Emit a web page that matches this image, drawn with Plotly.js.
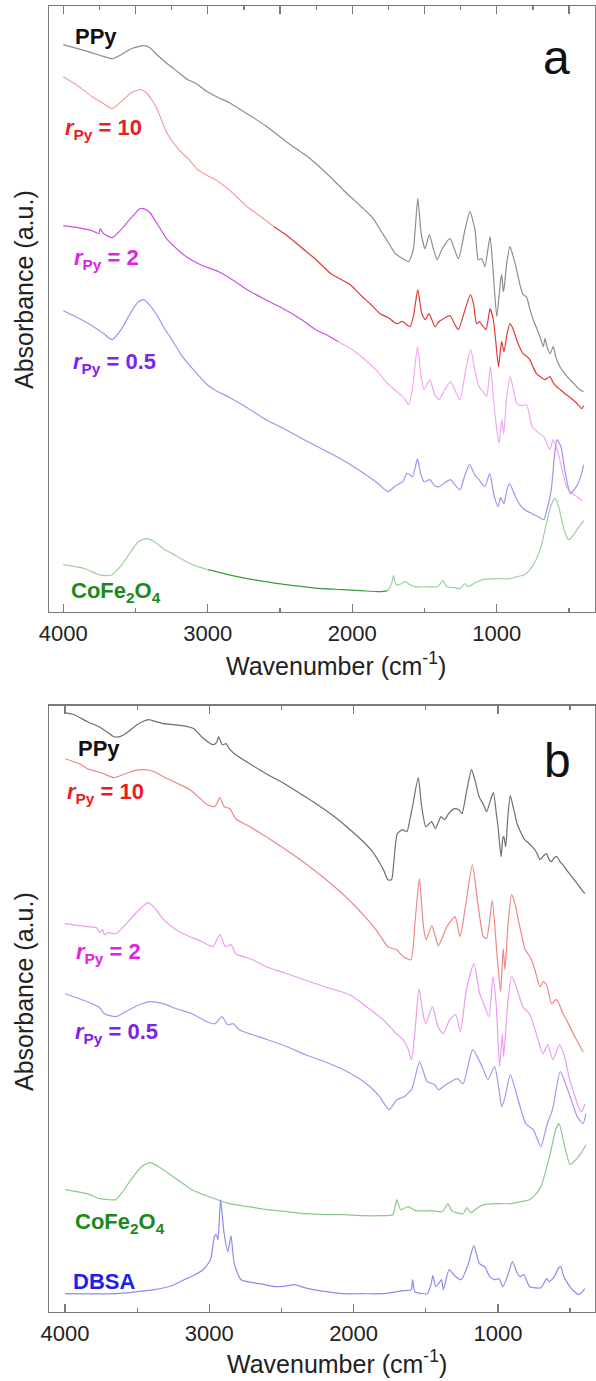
<!DOCTYPE html>
<html>
<head>
<meta charset="utf-8">
<script src="https://cdn.plot.ly/plotly-3.0.1.min.js"></script>
<style>html,body{margin:0;padding:0;background:#fff;}#chart{width:596px;height:1381px;}</style>
</head>
<body>
<div id="chart"></div>
<script>
// ---------- Panel a data (wavenumber cm-1, absorbance a.u.) ----------
const wnA_PPy = [4000,3850,3760,3662,3600,3530,3444,3400,3359,3280,3200,3149,3080,3004,2925,2850,2728,2600,2438,2300,2175,2050,1938,1860,1807,1750,1702,1650,1610,1578,1547,1524,1497,1467,1439,1412,1381,1324,1266,1220,1186,1151,1128,1104,1082,1047,1029,1000,975,966,955,950,930,909,890,863,840,818,795,770,748,720,701,678,667,650,632,609,590,563,530,494,460,425,400];
const absA_PPy = [5.67,5.61,5.57,5.53,5.57,5.63,5.66,5.64,5.58,5.48,5.39,5.33,5.28,5.20,5.14,5.09,4.98,4.86,4.68,4.54,4.38,4.20,4.05,3.94,3.82,3.69,3.58,3.53,3.50,3.62,4.13,3.79,3.63,3.77,3.63,3.52,3.62,3.73,3.53,3.82,4.00,3.82,3.52,3.53,3.45,3.75,3.48,2.95,3.30,3.37,3.20,3.23,3.50,3.65,3.57,3.42,3.27,3.17,3.15,3.02,2.92,2.82,2.75,2.65,2.73,2.64,2.58,2.65,2.54,2.45,2.38,2.32,2.27,2.22,2.20];

const wnA_r10 = [4000,3900,3800,3720,3662,3600,3530,3464,3420,3359,3280,3201,3130,3070,3000,2925,2830,2728,2642,2542,2450,2359,2250,2148,2014,1938,1877,1807,1750,1693,1660,1647,1625,1600,1575,1547,1519,1495,1470,1455,1428,1400,1381,1324,1290,1266,1220,1182,1160,1140,1120,1104,1075,1060,1047,1024,1005,988,975,966,950,930,909,885,863,840,818,790,771,750,725,690,667,632,610,586,560,528,490,450,412,400];
const absA_r10 = [5.35,5.26,5.15,5.08,5.03,5.10,5.19,5.22,5.18,5.05,4.78,4.62,4.52,4.42,4.36,4.30,4.19,4.05,3.96,3.85,3.76,3.65,3.52,3.38,3.27,3.16,3.08,2.98,2.94,2.88,2.90,2.90,2.87,2.85,2.97,3.22,2.98,2.92,2.98,2.94,2.85,2.90,2.92,2.96,2.87,2.82,3.02,3.17,3.07,2.88,2.90,2.87,2.82,2.92,3.03,2.92,2.67,2.45,2.62,2.70,2.60,2.77,2.88,2.82,2.72,2.64,2.58,2.55,2.52,2.45,2.38,2.34,2.32,2.35,2.29,2.25,2.22,2.18,2.14,2.09,2.03,2.06];

const wnA_r2 = [4000,3900,3800,3754,3745,3720,3662,3600,3530,3470,3444,3400,3359,3280,3200,3149,3050,2925,2830,2728,2600,2464,2350,2253,2180,2096,2000,1912,1830,1754,1700,1649,1610,1585,1549,1525,1504,1464,1430,1399,1360,1320,1285,1254,1215,1181,1150,1123,1090,1070,1044,1023,1000,985,965,952,930,907,885,861,830,795,775,755,720,675,650,634,608,590,569,540,517,490,464,435,406];
const absA_r2 = [3.86,3.84,3.81,3.78,3.83,3.78,3.74,3.82,3.94,4.03,4.03,3.99,3.90,3.72,3.61,3.55,3.47,3.40,3.32,3.22,3.12,3.02,2.92,2.82,2.77,2.70,2.62,2.52,2.41,2.28,2.21,2.15,2.07,2.22,2.65,2.37,2.22,2.32,2.17,2.12,2.22,2.30,2.20,2.12,2.42,2.62,2.40,2.25,2.19,2.15,2.45,2.12,1.82,1.68,1.92,1.78,2.17,2.35,2.22,2.08,2.06,2.07,1.97,1.85,1.80,1.75,1.67,1.62,1.72,1.65,1.55,1.37,1.25,1.20,1.17,1.14,1.11];

const wnA_r05 = [4000,3900,3800,3720,3662,3600,3530,3480,3444,3400,3350,3307,3240,3175,3100,3004,2930,2859,2728,2596,2460,2333,2200,2070,1980,1886,1820,1754,1700,1649,1625,1610,1583,1549,1525,1504,1464,1430,1399,1360,1320,1285,1254,1220,1188,1150,1123,1083,1049,1017,991,975,965,950,930,912,885,861,830,807,755,700,675,650,623,600,583,556,530,491,465,438,415,398];
const absA_r05 = [3.01,2.94,2.86,2.78,2.72,2.82,3.00,3.10,3.12,3.06,2.96,2.85,2.70,2.55,2.42,2.27,2.20,2.15,2.04,1.92,1.82,1.72,1.62,1.52,1.44,1.35,1.28,1.20,1.26,1.30,1.38,1.38,1.35,1.53,1.37,1.30,1.32,1.26,1.25,1.29,1.32,1.26,1.22,1.37,1.47,1.36,1.32,1.25,1.38,1.15,1.05,1.14,1.12,1.08,1.22,1.28,1.20,1.12,1.05,1.02,0.98,0.94,0.92,1.04,1.22,1.57,1.72,1.65,1.42,1.18,1.22,1.28,1.37,1.47];

const wnA_Co = [4000,3850,3754,3700,3662,3600,3543,3480,3425,3370,3307,3220,3122,3000,2859,2728,2596,2460,2333,2200,2070,1940,1807,1754,1728,1715,1697,1660,1635,1600,1570,1480,1412,1385,1373,1346,1290,1254,1222,1201,1150,1096,1000,912,860,807,770,728,690,662,628,600,591,570,556,530,504,485,464,430,398];
const absA_Co = [0.47,0.43,0.37,0.36,0.37,0.46,0.58,0.70,0.73,0.70,0.63,0.56,0.48,0.42,0.37,0.33,0.30,0.27,0.25,0.23,0.22,0.21,0.20,0.21,0.28,0.36,0.27,0.28,0.30,0.27,0.25,0.25,0.25,0.29,0.31,0.25,0.24,0.23,0.28,0.25,0.29,0.32,0.33,0.33,0.35,0.37,0.42,0.52,0.67,0.85,1.05,1.13,1.12,1.04,0.95,0.80,0.72,0.74,0.78,0.85,0.91];

// ---------- Panel b data ----------
const wnB_PPy = [4000,3937,3844,3765,3700,3660,3620,3581,3500,3423,3370,3317,3250,3186,3107,3054,2975,2950,2936,2909,2883,2857,2817,2720,2606,2490,2369,2250,2132,2040,1947,1880,1816,1790,1763,1737,1720,1697,1660,1631,1610,1592,1552,1530,1499,1460,1433,1394,1370,1341,1302,1270,1249,1215,1183,1160,1130,1100,1078,1050,1031,1010,999,978,965,959,946,930,914,890,867,840,814,790,762,735,709,690,664,645,630,610,590,570,551,510,472,435,398];
const absB_PPy = [5.99,5.97,5.90,5.85,5.79,5.75,5.75,5.78,5.87,5.92,5.90,5.88,5.87,5.86,5.83,5.75,5.67,5.69,5.75,5.67,5.68,5.62,5.57,5.48,5.38,5.29,5.18,5.07,4.95,4.84,4.72,4.62,4.48,4.41,4.32,4.32,4.52,4.78,4.82,4.80,4.92,5.05,5.34,5.07,4.85,4.90,4.83,4.95,4.92,4.98,5.03,5.02,4.98,5.22,5.42,5.32,5.15,5.07,5.00,5.12,5.19,4.97,4.85,4.55,4.74,4.75,4.65,4.97,5.16,5.02,4.88,4.79,4.72,4.69,4.65,4.60,4.52,4.55,4.58,4.52,4.50,4.54,4.55,4.50,4.47,4.39,4.32,4.25,4.18];

const wnB_r10 = [4000,3900,3844,3750,3660,3600,3520,3450,3380,3317,3230,3133,3070,3014,2962,2927,2896,2857,2817,2720,2606,2490,2369,2250,2132,2026,1921,1840,1763,1725,1701,1655,1603,1573,1544,1516,1497,1458,1412,1354,1297,1262,1228,1177,1136,1101,1078,1039,1009,981,963,951,930,905,880,859,836,813,767,740,709,685,663,628,600,583,555,525,470,410];
const absB_r10 = [5.53,5.48,5.43,5.39,5.34,5.37,5.41,5.42,5.40,5.35,5.29,5.22,5.14,5.07,5.05,5.14,5.05,5.03,4.93,4.85,4.75,4.64,4.52,4.39,4.25,4.11,3.95,3.81,3.65,3.63,3.62,3.55,3.52,3.92,4.33,3.85,3.72,3.86,3.66,3.85,3.95,3.75,4.02,4.47,4.05,3.75,3.73,4.11,3.62,3.20,3.63,3.42,3.87,4.17,4.07,3.92,3.77,3.63,3.52,3.40,3.25,3.30,3.27,3.08,3.12,3.10,3.00,2.92,2.76,2.60];

const wnB_r2 = [4000,3844,3780,3760,3740,3727,3700,3648,3580,3500,3425,3380,3317,3230,3133,3050,2975,2927,2889,2848,2817,2700,2606,2480,2343,2200,2026,1911,1795,1703,1657,1620,1599,1576,1547,1519,1500,1454,1415,1380,1334,1292,1260,1218,1167,1126,1091,1062,1034,1011,988,969,960,930,905,873,827,781,734,688,654,619,572,538,503,470,440,420,395];
const absB_r2 = [3.88,3.85,3.84,3.79,3.82,3.77,3.79,3.78,3.87,4.00,4.09,4.04,3.92,3.82,3.75,3.70,3.65,3.77,3.65,3.67,3.58,3.52,3.45,3.39,3.32,3.25,3.17,3.05,2.92,2.78,2.72,2.62,2.52,2.78,3.23,2.98,2.88,3.05,2.85,2.78,2.92,2.97,2.80,3.22,3.48,3.18,3.05,2.95,3.35,3.05,2.45,2.78,2.55,3.12,3.35,3.25,3.05,2.98,2.78,2.58,2.67,2.52,2.67,2.55,2.32,2.17,2.04,2.00,2.08];

const wnB_r05 = [4000,3844,3760,3727,3648,3580,3500,3411,3320,3227,3120,3017,2960,2912,2873,2833,2794,2700,2596,2460,2333,2200,2070,1970,1886,1820,1754,1701,1649,1596,1543,1490,1438,1412,1359,1280,1241,1175,1109,1070,1023,992,974,953,914,860,807,755,702,660,622,568,516,450,410,390];
const absB_r05 = [3.18,3.10,3.04,2.98,2.95,3.00,3.06,3.10,3.08,3.03,2.98,2.90,2.88,2.95,2.87,2.88,2.82,2.77,2.72,2.65,2.57,2.50,2.42,2.34,2.25,2.15,2.02,2.12,2.15,2.23,2.50,2.30,2.27,2.22,2.27,2.33,2.28,2.62,2.45,2.32,2.45,2.22,2.05,2.13,2.37,2.12,1.88,1.82,1.65,1.87,2.02,2.40,2.22,1.95,1.88,1.98];

const wnB_Co = [4000,3850,3758,3700,3648,3600,3543,3470,3411,3350,3280,3200,3122,3000,2859,2728,2596,2460,2333,2200,2070,1940,1807,1728,1701,1675,1622,1570,1460,1385,1346,1320,1241,1215,1188,1140,1096,1000,912,840,780,740,702,670,637,600,576,555,532,500,475,453,427,388];
const absB_Co = [1.22,1.18,1.13,1.12,1.12,1.20,1.32,1.45,1.49,1.45,1.38,1.30,1.22,1.15,1.08,1.05,1.02,1.00,0.98,0.97,0.97,0.96,0.96,0.97,1.12,1.02,1.05,1.01,1.01,1.00,1.08,1.01,0.98,1.04,0.99,1.04,1.07,1.08,1.08,1.10,1.12,1.17,1.25,1.40,1.58,1.82,1.88,1.77,1.62,1.47,1.50,1.53,1.58,1.67];

const wnB_DBSA = [4000,3648,3385,3260,3174,3100,3043,2991,2965,2952,2940,2922,2897,2871,2850,2827,2780,2648,2542,2460,2410,2340,2278,2070,1940,1807,1700,1649,1601,1591,1575,1490,1464,1451,1432,1412,1391,1378,1338,1293,1254,1207,1167,1128,1091,1057,1023,991,965,930,899,870,847,820,780,702,662,644,609,583,564,543,491,438,398];
const absB_DBSA = [0.18,0.18,0.22,0.26,0.32,0.37,0.42,0.52,0.75,0.77,0.72,1.12,0.78,0.60,0.76,0.48,0.32,0.28,0.25,0.26,0.27,0.24,0.22,0.18,0.18,0.18,0.20,0.21,0.22,0.32,0.20,0.18,0.27,0.36,0.25,0.28,0.32,0.22,0.42,0.35,0.32,0.47,0.66,0.48,0.45,0.35,0.32,0.33,0.25,0.37,0.50,0.40,0.35,0.37,0.25,0.24,0.33,0.30,0.35,0.43,0.45,0.35,0.23,0.17,0.23];

const xTitle = 'Wavenumber (cm<sup>-1</sup>)';
const yTitle = 'Absorbance (a.u.)';

// ---------- styling ----------
const W = 596, H = 1381, ML = 49, MR = 1, MT = 6, MB = 69;
const PW = W - ML - MR, PH = H - MT - MB;
const FONT = 'Liberation Sans, Arial, Helvetica, sans-serif';
const AX = '#7a7a7a';
const px2x = p => (p - ML) / PW;
const px2y = p => (H - MB - p) / PH;

// split a series into coloured segments [wnHigh, wnLow, colour]
function segTraces(wn, ab, segs, xa, ya) {
  const out = [];
  segs.forEach(([hi, lo, col]) => {
    const x = [], y = [];
    for (let i = 0; i < wn.length; i++) {
      if (wn[i] <= hi && wn[i] >= lo) { x.push(wn[i]); y.push(ab[i]); }
    }
    out.push({x, y, xaxis: xa, yaxis: ya, mode: 'lines', type: 'scatter',
      line: {color: col, width: 1.2, shape: 'spline', smoothing: 0.55}, hoverinfo: 'skip', showlegend: false});
  });
  return out;
}

const traces = [].concat(
  segTraces(wnA_PPy, absA_PPy, [[5000, 0, '#8d8d8d']], 'x', 'y'),
  segTraces(wnA_r10, absA_r10, [[5000, 2542, '#f3a0a0'], [2542, 0, '#e23a3a']], 'x', 'y'),
  segTraces(wnA_r2, absA_r2, [[5000, 2096, '#cc4fe4'], [2096, 0, '#f2a8f2']], 'x', 'y'),
  segTraces(wnA_r05, absA_r05, [[5000, 0, '#a88ff0']], 'x', 'y'),
  segTraces(wnA_Co, absA_Co, [[5000, 3000, '#9fcf9f'], [3000, 1754, '#3d9b3d'], [1754, 0, '#9fcf9f']], 'x', 'y'),
  segTraces(wnB_PPy, absB_PPy, [[5000, 0, '#6e6e6e']], 'x2', 'y2'),
  segTraces(wnB_r10, absB_r10, [[5000, 0, '#f08686']], 'x2', 'y2'),
  segTraces(wnB_r2, absB_r2, [[5000, 0, '#eb9cef']], 'x2', 'y2'),
  segTraces(wnB_r05, absB_r05, [[5000, 0, '#a994f0']], 'x2', 'y2'),
  segTraces(wnB_Co, absB_Co, [[5000, 0, '#8ec78e']], 'x2', 'y2'),
  segTraces(wnB_DBSA, absB_DBSA, [[5000, 0, '#8b8bf0']], 'x2', 'y2'),
  [{x: [], y: [], xaxis: 'x3', yaxis: 'y', type: 'scatter', mode: 'lines', showlegend: false, hoverinfo: 'skip'}]
);

const yTopA = 6, yBotA = 611.7, yTopB = 705.7, yBotB = 1311.7;
const domA = [px2y(yBotA), px2y(yTopA)];
const domB = [px2y(yBotB), px2y(yTopB)];

const tickFont = {family: FONT, size: 22, color: '#222'};
function xAxis(range, anchor, extra) {
  return Object.assign({
    range: range, anchor: anchor, domain: [0, 1], dtick: 1000, tick0: 0,
    ticks: 'inside', ticklen: 8, tickwidth: 1.2, tickcolor: AX,
    showline: true, linecolor: AX, linewidth: 1.3, showgrid: false, zeroline: false,
    tickfont: tickFont, ticklabelstandoff: 2,
    minor: {dtick: 500, tick0: 0, ticks: 'inside', ticklen: 4, tickwidth: 1.2, tickcolor: AX, showgrid: false}
  }, extra || {});
}
function yAxis(domain, range, anchor) {
  return {domain: domain, range: range, anchor: anchor, showline: true, mirror: true,
    linecolor: AX, linewidth: 1.3, ticks: '', showticklabels: false, showgrid: false, zeroline: false};
}
const rangeA = [4000 + (63.3 - ML) / 0.1445, 4000 - (W - MR - 63.3) / 0.1445];
const rangeB = [4000 + (65 - ML) / 0.1443, 4000 - (W - MR - 65) / 0.1443];

const lab = (txt, pxX, pxY, color, size, anchor) => ({
  text: txt, xref: 'paper', yref: 'paper', x: px2x(pxX), y: px2y(pxY),
  xanchor: anchor || 'left', yanchor: 'middle', showarrow: false,
  font: {family: FONT, size: size || 22, color: color}
});
const rLab = v => '<b><i>r</i><sub>Py</sub> = ' + v + '</b>';
const coLab = '<b>CoFe<sub>2</sub>O<sub>4</sub></b>';

const annotations = [
  lab('<b>PPy</b>', 73, 36, '#111'),
  lab(rLab('10'), 63, 129, '#ea1c24'),
  lab(rLab('2'), 72, 259, '#e022e0'),
  lab(rLab('0.5'), 71, 363, '#7d24e6'),
  lab(coLab, 69, 592, '#1b8a1b'),
  lab('a', 556, 58, '#111', 48, 'center'),
  lab('<b>PPy</b>', 76, 748, '#111'),
  lab(rLab('10'), 65, 793, '#ea1c24'),
  lab(rLab('2'), 74, 953, '#e022e0'),
  lab(rLab('0.5'), 73, 1033, '#7d24e6'),
  lab(coLab, 73, 1223, '#1b8a1b'),
  lab('<b>DBSA</b>', 71, 1281, '#1f1fe6'),
  lab('b', 557, 760, '#111', 48, 'center'),
  Object.assign(lab(yTitle, 24, 290, '#222', 25, 'center'), {textangle: -90}),
  Object.assign(lab(yTitle, 24, 992, '#222', 25, 'center'), {textangle: -90}),
  lab(xTitle, 336, 664, '#222', 25, 'center'),
  lab(xTitle, 337, 1362, '#222', 25, 'center')
];

const layout = {
  width: W, height: H, margin: {l: ML, r: MR, t: MT, b: MB, pad: 0},
  paper_bgcolor: '#fff', plot_bgcolor: '#fff', showlegend: false,
  font: {family: FONT, color: '#222'},
  xaxis: xAxis(rangeA, 'y'),
  xaxis3: xAxis(rangeA, 'y', {overlaying: 'x', side: 'top', showticklabels: false, dtick: 500,
    minor: {dtick: 250, tick0: 0, ticks: 'inside', ticklen: 4, tickwidth: 1.2, tickcolor: AX, showgrid: false}}),
  yaxis: yAxis(domA, [0, (yBotA - yTopA) / 100], 'x'),
  xaxis2: xAxis(rangeB, 'y2', {mirror: 'ticks'}),
  yaxis2: yAxis(domB, [0, (yBotB - yTopB) / 100], 'x2'),
  annotations: annotations
};

Plotly.newPlot('chart', traces, layout, {staticPlot: true, displayModeBar: false});
</script>
</body>
</html>
